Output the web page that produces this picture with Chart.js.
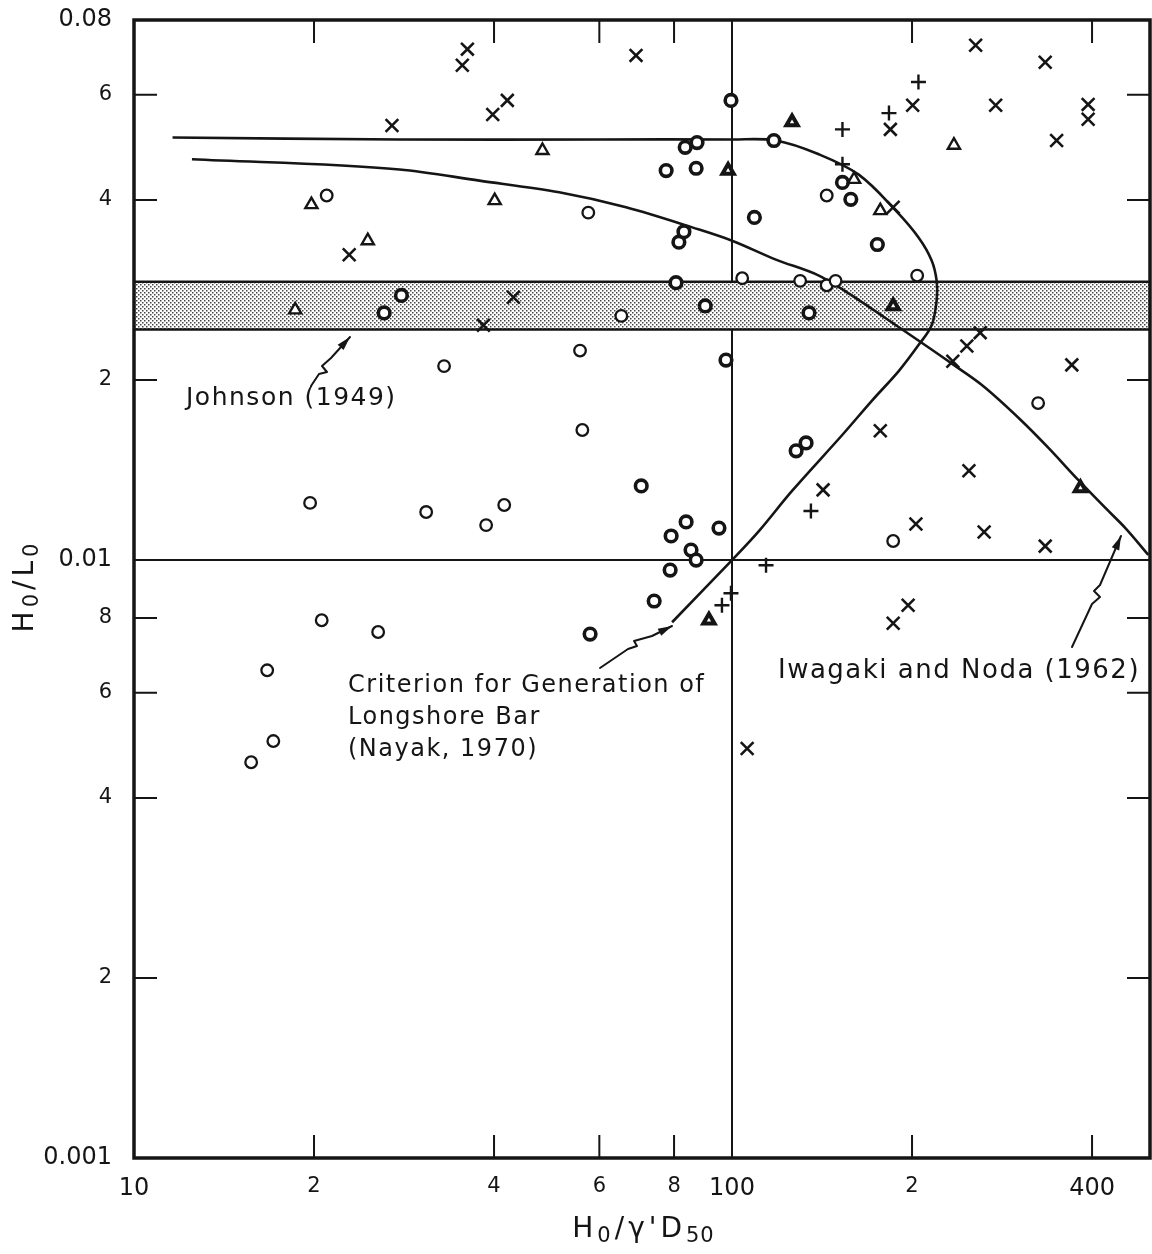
<!DOCTYPE html>
<html>
<head>
<meta charset="utf-8">
<script src="https://cdn.jsdelivr.net/npm/chart.js@4.4.0/dist/chart.umd.min.js"></script>
<style>
  html, body { margin: 0; padding: 0; background: #fff; }
  #wrap { width: 1152px; height: 1254px; }
</style>
</head>
<body>
<div id="wrap"><canvas id="chart" width="1152" height="1254"></canvas></div>
<script>
// tick values and labels
const xTicks = [10, 20, 40, 60, 80, 100, 200, 400];
const xTickLabels = ['10', '2', '4', '6', '8', '100', '2', '400'];
const yTicks = [0.001, 0.002, 0.004, 0.006, 0.008, 0.01, 0.02, 0.04, 0.06, 0.08];
const yTickLabels = ['0.001', '2', '4', '6', '8', '0.01', '2', '4', '6', '0.08'];

// Johnson (1949) band, H0/L0 bounds
const johnsonBand = [0.0243, 0.0292];

// Nayak (1970) criterion curve [H0/gD50, H0/L0]
const nayakCurve = [
  [11.6, 0.0509], [27.8, 0.0505], [60, 0.0505], [100, 0.0505], [118.4, 0.0503],
  [139.7, 0.0477], [162.9, 0.0441], [187.9, 0.0384], [205.2, 0.0346], [215.7, 0.0317],
  [219.9, 0.0293], [219.9, 0.0272], [215.7, 0.0247], [205.2, 0.0229], [190.0, 0.0207],
  [171.3, 0.01846], [153, 0.0162], [126, 0.01305], [110.9, 0.01118], [100, 0.0100],
  [79.4, 0.00787]
];

// Iwagaki and Noda (1962) curve
const iwagakiCurve = [
  [12.5, 0.0468], [27.8, 0.0450], [37.8, 0.0431], [51.4, 0.0412], [66.5, 0.0389],
  [85.8, 0.0360], [100, 0.0342], [118.4, 0.0318], [139.7, 0.0299], [150.9, 0.0286],
  [193.7, 0.0242], [234.8, 0.0212], [261.4, 0.01964], [304.9, 0.0171], [338.2, 0.0154],
  [379.6, 0.0136], [421.1, 0.01222], [454.8, 0.01131], [496.8, 0.0102]
];

// data points by symbol
const thinCircles = [
  [21.0, 0.0407], [57.5, 0.0381], [55.7, 0.0224], [33.0, 0.0211], [144, 0.0407],
  [130, 0.0293], [144, 0.0288], [149, 0.0293], [204, 0.0299], [325, 0.0183],
  [186, 0.01076], [19.7, 0.01246], [20.6, 0.00793], [25.6, 0.00758], [16.7, 0.00654],
  [17.1, 0.00498], [15.7, 0.00459], [56.2, 0.0165], [30.8, 0.01203], [38.8, 0.01144],
  [41.6, 0.01236], [104, 0.0296], [65.3, 0.0256]
];
const boldCircles = [
  [26.2, 0.0259], [28.0, 0.0277], [99.6, 0.0587], [77.6, 0.0448], [87.1, 0.0452],
  [109, 0.0374], [81.5, 0.0340], [83.1, 0.0354], [83.5, 0.0490], [87.4, 0.0499],
  [117.5, 0.0503], [80.6, 0.0291], [90.2, 0.0266], [97.7, 0.0216], [153, 0.0428],
  [158, 0.0401], [175, 0.0337], [134.5, 0.0259], [128, 0.01523], [133, 0.0157],
  [70.5, 0.0133], [79.1, 0.01097], [83.8, 0.01158], [95.1, 0.01131], [85.4, 0.01039],
  [87.1, 0.0100], [78.8, 0.00962], [74.1, 0.00854], [57.9, 0.00752]
];
const crosses = [
  [36.1, 0.0715], [35.4, 0.0672], [69.1, 0.0698], [27.0, 0.0533], [39.8, 0.0556],
  [42.1, 0.0587], [43.1, 0.0275], [38.4, 0.0247], [22.9, 0.0324], [255.5, 0.0726],
  [334, 0.0680], [200.5, 0.0576], [184, 0.0525], [276, 0.0576], [394, 0.0578],
  [394, 0.0546], [349, 0.0503], [186, 0.0389], [234, 0.0215], [247, 0.0228],
  [260, 0.0240], [370, 0.0212], [177, 0.01645], [142, 0.0131], [249, 0.0141],
  [203, 0.01149], [264, 0.01114], [334, 0.01055], [197, 0.0084], [186, 0.00784],
  [106, 0.00484]
];
const pluses = [
  [205, 0.0630], [153, 0.0525], [183, 0.0559], [153, 0.0459], [135.5, 0.01208],
  [114, 0.0098], [99.6, 0.0088], [96.2, 0.0084]
];
const triangles = [
  [19.8, 0.0393], [24.6, 0.0342], [18.6, 0.0262], [48.2, 0.0484], [40.1, 0.0399],
  [160, 0.0433], [235, 0.0494], [177, 0.0384]
];
const boldTriangles = [
  [98.5, 0.0448], [126, 0.0540], [186, 0.0266], [91.5, 0.00793], [382.5, 0.0132]
];

const ink = '#151515';
const face = 'DejaVu Sans';
const toPts = arr => arr.map(([x, y]) => ({ x, y }));

const canvas = document.getElementById('chart');

// dotted shading for the band
const dotPattern = () => {
  const tile = document.createElement('canvas');
  tile.width = 4;
  tile.height = 4;
  const g = tile.getContext('2d');
  g.fillStyle = '#fff';
  g.fillRect(0, 0, 4, 4);
  g.fillStyle = '#454545';
  g.fillRect(0, 0, 1.5, 1.5);
  g.fillRect(2, 2, 1.5, 1.5);
  return canvas.getContext('2d').createPattern(tile, 'repeat');
};

const curve = (label, pts, mode) => ({
  label,
  data: toPts(pts),
  showLine: true,
  borderColor: ink,
  borderWidth: 2.6,
  pointRadius: 0,
  tension: 0.35,
  cubicInterpolationMode: mode || 'default',
  fill: false,
});

const marks = (label, pts, style, r, bw) => ({
  label,
  data: toPts(pts),
  showLine: false,
  pointStyle: style,
  pointRadius: r,
  pointHoverRadius: r,
  pointBorderColor: ink,
  pointBackgroundColor: '#fff',
  pointBorderWidth: bw,
});

const arrow = (ctx, pts) => {
  ctx.beginPath();
  ctx.moveTo(pts[0][0], pts[0][1]);
  for (let i = 1; i < pts.length; i++) ctx.lineTo(pts[i][0], pts[i][1]);
  ctx.stroke();
  const [x1, y1] = pts[pts.length - 2];
  const [x2, y2] = pts[pts.length - 1];
  const a = Math.atan2(y2 - y1, x2 - x1);
  const c = Math.cos(a), s = Math.sin(a);
  ctx.beginPath();
  ctx.moveTo(x2, y2);
  ctx.lineTo(x2 - 14 * c + 4 * s, y2 - 14 * s - 4 * c);
  ctx.lineTo(x2 - 14 * c - 4 * s, y2 - 14 * s + 4 * c);
  ctx.closePath();
  ctx.fill();
};

// text with lowered subscripts, centred on (cx, baseline)
const richText = (ctx, runs, cx, baseline) => {
  const setRun = ([, size, dy]) => {
    ctx.font = `${size}px "${face}"`;
    ctx.letterSpacing = dy ? '1px' : '4px';
  };
  let w = 0;
  runs.forEach(r => {
    setRun(r);
    w += ctx.measureText(r[0]).width;
  });
  let x = cx - w / 2;
  runs.forEach(r => {
    setRun(r);
    ctx.fillText(r[0], x, baseline + (r[2] || 0));
    x += ctx.measureText(r[0]).width + (r[2] ? 3 : 0);
  });
};

const decor = {
  id: 'decor',
  afterDatasetsDraw(chart) {
    const { ctx, chartArea: a, scales: { x, y } } = chart;
    ctx.save();
    ctx.strokeStyle = ink;
    ctx.fillStyle = ink;
    // inward ticks on all four sides
    ctx.lineWidth = 2;
    ctx.beginPath();
    xTicks.forEach(v => {
      if (v === 10 || v === 100) return;
      const px = x.getPixelForValue(v);
      ctx.moveTo(px, a.bottom);
      ctx.lineTo(px, a.bottom - 23);
      ctx.moveTo(px, a.top);
      ctx.lineTo(px, a.top + 23);
    });
    yTicks.forEach(v => {
      if (v === 0.001 || v === 0.01 || v === 0.08) return;
      const py = y.getPixelForValue(v);
      ctx.moveTo(a.left, py);
      ctx.lineTo(a.left + 23, py);
      ctx.moveTo(a.right, py);
      ctx.lineTo(a.right - 23, py);
    });
    ctx.stroke();
    // frame
    ctx.lineWidth = 3.5;
    ctx.strokeRect(a.left, a.top, a.right - a.left, a.bottom - a.top);

    // annotations
    ctx.lineWidth = 2;
    ctx.lineJoin = 'round';
    ctx.lineCap = 'round';
    arrow(ctx, [[311, 386], [319, 374], [327, 372], [322, 366], [331, 358], [350, 337]]);
    arrow(ctx, [[600, 668], [628, 649], [637, 646], [634, 641], [652, 636], [672, 626]]);
    arrow(ctx, [[1072, 647], [1092, 604], [1100, 597], [1094, 591], [1100, 585], [1121, 536]]);

    ctx.textBaseline = 'middle';
    ctx.textAlign = 'left';
    ctx.letterSpacing = '1.5px';
    ctx.font = `25px "${face}"`;
    ctx.fillText('Johnson (1949)', 186, 398);
    ctx.font = `24px "${face}"`;
    ctx.fillText('Criterion for Generation of', 348, 686);
    ctx.fillText('Longshore Bar', 348, 718);
    ctx.fillText('(Nayak, 1970)', 348, 750);
    ctx.font = `26px "${face}"`;
    ctx.fillText('Iwagaki and Noda (1962)', 778, 671);

    // axis titles
    ctx.textBaseline = 'alphabetic';
    richText(ctx, [['H', 28], ['0', 21, 5], ['/', 28], ['\u03b3', 28], ['\'', 28], ['D', 28], ['50', 21, 5]],
      (a.left + a.right) / 2, 1237);
    ctx.translate(33, (a.top + a.bottom) / 2);
    ctx.rotate(-Math.PI / 2);
    richText(ctx, [['H', 28], ['0', 21, 5], ['/', 28], ['L', 28], ['0', 21, 5]], 0, 0);
    ctx.restore();
  },
};

const tickFont = labels => ctx => ({
  family: face,
  size: labels[ctx.index] && labels[ctx.index].length > 1 ? 24 : 21,
});

new Chart(canvas, {
  type: 'scatter',
  data: {
    datasets: [
      marks('crosses', crosses, 'crossRot', 9, 2.6),
      marks('plus', pluses, 'cross', 7.5, 2.4),
      marks('triangles', triangles, 'triangle', 7, 2.4),
      marks('bold triangles', boldTriangles, 'triangle', 6.5, 4),
      marks('circles', thinCircles, 'circle', 5.8, 2.3),
      marks('bold circles', boldCircles, 'circle', 5.8, 3.6),
      curve('Nayak (1970)', nayakCurve),
      curve('Iwagaki and Noda (1962)', iwagakiCurve, 'monotone'),
      {
        label: 'band top',
        data: [{ x: 10, y: johnsonBand[1] }, { x: 500, y: johnsonBand[1] }],
        showLine: true,
        borderColor: ink,
        borderWidth: 2.4,
        pointRadius: 0,
        fill: false,
      },
      {
        label: 'Johnson (1949)',
        data: [{ x: 10, y: johnsonBand[0] }, { x: 500, y: johnsonBand[0] }],
        showLine: true,
        borderColor: ink,
        borderWidth: 2.4,
        pointRadius: 0,
        fill: '-1',
        backgroundColor: dotPattern(),
      },
    ],
  },
  options: {
    responsive: false,
    animation: false,
    events: [],
    layout: { autoPadding: false, padding: { top: 20, right: 2, left: 0, bottom: 0 } },
    plugins: { legend: { display: false }, tooltip: { enabled: false } },
    scales: {
      x: {
        type: 'logarithmic',
        min: 10,
        max: 500,
        afterBuildTicks: s => { s.ticks = xTicks.map(v => ({ value: v })); },
        afterFit: s => {
          s.height = 96;
          s.paddingLeft = 0;
          s.paddingRight = 0;
        },
        border: { display: false },
        grid: {
          drawTicks: false,
          lineWidth: 2,
          color: c => (c.tick && c.tick.value === 100 ? ink : 'rgba(0,0,0,0)'),
        },
        ticks: {
          autoSkip: false,
          maxRotation: 0,
          padding: 16,
          color: ink,
          font: tickFont(xTickLabels),
          callback: (v, i) => xTickLabels[i],
        },
      },
      y: {
        type: 'logarithmic',
        min: 0.001,
        max: 0.08,
        afterBuildTicks: s => { s.ticks = yTicks.map(v => ({ value: v })); },
        afterFit: s => {
          s.width = 134;
          s.paddingTop = 0;
          s.paddingBottom = 0;
        },
        border: { display: false },
        grid: {
          drawTicks: false,
          lineWidth: 2,
          color: c => (c.tick && c.tick.value === 0.01 ? ink : 'rgba(0,0,0,0)'),
        },
        ticks: {
          autoSkip: false,
          padding: 22,
          color: ink,
          font: tickFont(yTickLabels),
          callback: (v, i) => yTickLabels[i],
        },
      },
    },
  },
  plugins: [decor],
});
</script>
</body>
</html>
